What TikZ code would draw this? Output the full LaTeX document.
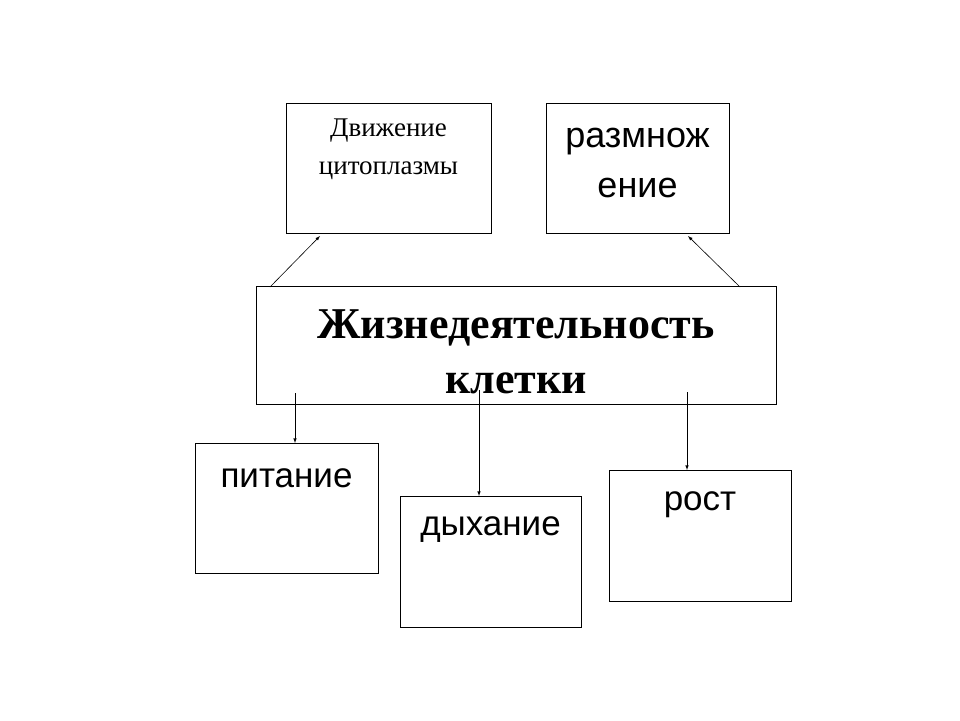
\documentclass[tikz,border=0pt]{standalone}
\usepackage{fontspec}
\setmainfont{Liberation Serif}
\newfontfamily\sans{Liberation Sans}
\begin{document}
\begin{tikzpicture}[x=1pt,y=-1pt,
  bx/.style={draw,line width=0.8pt},
  ar/.style={-latex,line width=0.6pt}]
\path[use as bounding box] (0,0) rectangle (960,720);
\draw[bx] (286,103) rectangle (491,233);
\node (t1) at (388.5,149) [align=center,font=\fontsize{27}{38}\selectfont] {Движение\\цитоплазмы};
\draw[bx] (546,103) rectangle (729,233);
\node (t2) at (637.5,163) [align=center,font=\sans\fontsize{36}{50}\selectfont] {размнож\\ение};
\draw[bx] (256,286) rectangle (776,404);
\node (t3) at (516,352) [align=center,font=\bfseries\fontsize{44}{55}\selectfont] {Жизнедеятельность\\клетки};
\draw[bx] (195,443) rectangle (378,573);
\node (t4) at (286.5,478) [font=\sans\fontsize{35}{40}\selectfont] {питание};
\draw[bx] (400,496) rectangle (581,627);
\node (t5) at (490.5,530) [font=\sans\fontsize{35}{40}\selectfont] {дыхание};
\draw[bx] (609,470) rectangle (791,601);
\node (t6) at (700,505) [font=\sans\fontsize{35}{40}\selectfont] {рост};
\coordinate (a1) at (270,287); \coordinate (b1) at (320,236);
\coordinate (a2) at (740,287); \coordinate (b2) at (688,236);
\coordinate (a3) at (295,393); \coordinate (b3) at (295,443);
\coordinate (a4) at (479,390); \coordinate (b4) at (479,496);
\coordinate (a5) at (687,392); \coordinate (b5) at (687,470);
\foreach \i in {1,...,5} \draw[ar] (a\i) -- (b\i);
\end{tikzpicture}
\end{document}
